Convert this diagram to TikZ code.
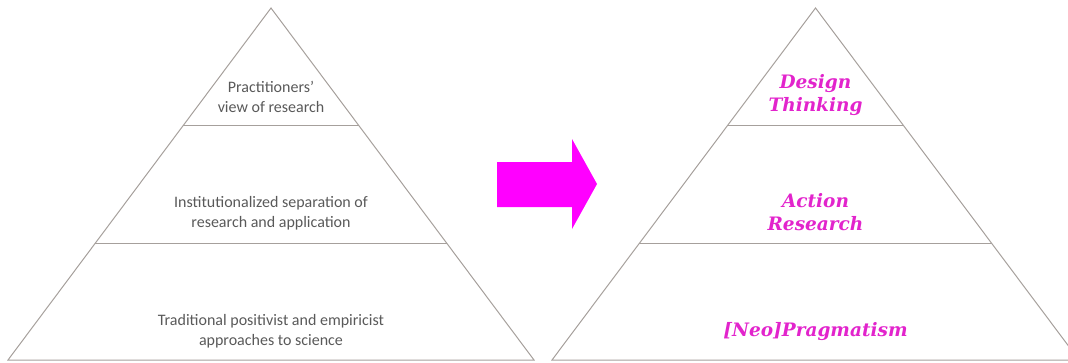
\documentclass[tikz,border=0pt]{standalone}
\usepackage{fontspec}
\setmainfont{Carlito}
\newfontfamily\georgia{DejaVu Serif}
\usetikzlibrary{calc}
\definecolor{edgegray}{RGB}{166,160,156}
\definecolor{txtgray}{RGB}{89,89,89}
\definecolor{hotpink}{RGB}{226,36,204}
\definecolor{shiftpink}{RGB}{255,0,255}
\tikzset{
  edge/.style  = {draw=edgegray, line width=1pt},
  tier/.style  = {align=center, font=\fontsize{16}{20}\selectfont,
                  text=txtgray, inner sep=0pt},
  term/.style  = {align=center, font=\georgia\bfseries\itshape\fontsize{18.5}{23}\selectfont,
                  text=hotpink, inner sep=0pt},
  bigarrow/.style = {fill=shiftpink, draw=none},
}

\begin{document}
\begin{tikzpicture}[x=1pt, y=-1pt]
    \useasboundingbox (0,0) rectangle (1068,362);
    \clip (0,0) rectangle (1068,362);

    % left pyramid
    \coordinate (la) at (271,8);
    \coordinate (ll) at (8,360);
    \coordinate (lr) at (534,360);
    \draw[edge] (ll) -- (la) -- (lr) -- cycle;
    \draw[edge] ($(la)!0.335!(ll)$) -- ($(la)!0.335!(lr)$);
    \draw[edge] ($(la)!0.668!(ll)$) -- ($(la)!0.668!(lr)$);

    \node[tier] (old1) at (271,97)  {Practitioners’\\view of research};
    \node[tier] (old2) at (271,213) {Institutionalized separation of\\research and application};
    \node[tier] (old3) at (271,331) {Traditional positivist and empiricist\\approaches to science};

    % right pyramid
    \coordinate (ra) at (815.5,8);
    \coordinate (rl) at (552,360);
    \coordinate (rr) at (1079,360);
    \draw[edge] (rl) -- (ra) -- (rr) -- cycle;
    \draw[edge] ($(ra)!0.335!(rl)$) -- ($(ra)!0.335!(rr)$);
    \draw[edge] ($(ra)!0.668!(rl)$) -- ($(ra)!0.668!(rr)$);

    \node[term] (new1) at (815.5,95)  {Design\\Thinking};
    \node[term] (new2) at (815.5,212) {Action\\Research};
    \node[term] (new3) at (815.5,332) {[Neo]Pragmatism};

    % arrow between
    \coordinate (a1) at (497,162);
    \coordinate (a2) at (572,162);
    \coordinate (a3) at (572,139);
    \coordinate (a4) at (597,184);
    \coordinate (a5) at (572,229);
    \coordinate (a6) at (572,207);
    \coordinate (a7) at (497,207);
    \fill[bigarrow] (a1) -- (a2) -- (a3) -- (a4) -- (a5) -- (a6) -- (a7) -- cycle;
  \end{tikzpicture}
\end{document}
